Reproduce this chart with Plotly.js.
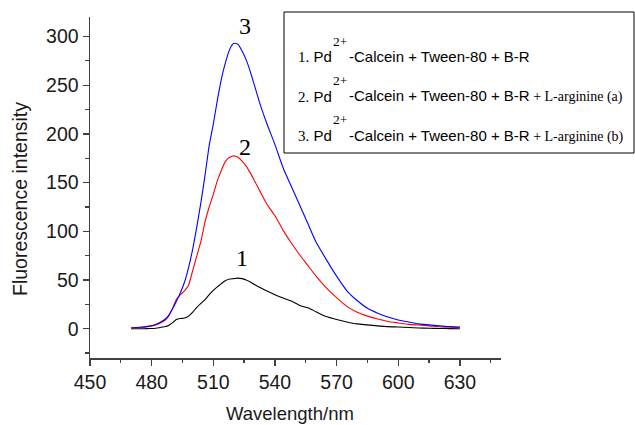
<!DOCTYPE html>
<html>
<head>
<meta charset="utf-8">
<script src="https://cdn.plot.ly/plotly-3.0.1.min.js"></script>
<style>html,body{margin:0;padding:0;background:#fff;}#chart{width:635px;height:425px;}</style>
</head>
<body>
<div id="chart"></div>
<script>
// ---- data ----
var wavelength = [470,474,478,482,486,488,490,492,494,496,498,500,502,504,506,508,510,512,514,516,518,520,522,524,526,528,530,533,536,540,544,548,552,556,560,565,570,575,580,585,590,595,600,605,610,615,620,625,630];
var curve1 = [0,0,0.2,0.5,2,3,6,9.5,10.5,11,13,17,22,26,30,35,39.5,43,46.5,49.5,51,51.5,52,51.5,50,48,45.5,42,39,35,31.5,28.5,24,21.5,17.5,12.5,9.5,7,5,4,3,2.2,1.8,1.3,0.8,0.5,0.3,0.2,0];
var curve2 = [0.5,1,2,4,8,12,20,30,35,39,45,60,75,90,110,125,138,152,163,172,176,177.5,176,172,167,160,152,140,128,116,101,88,76,65,54,42,32,23,17,13,10,7.5,6,4.5,3.8,3,2,1.5,1];
var curve3 = [1,1.5,2.5,4.5,9,13,20,28,37,48,63,82,105,130,158,188,210,235,257,274,287,293,292,285,276,264,250,229,211,189,165,146,127,108,89,71,54,39,29,21,16,12,9,7,5,4,3,2.3,1.7];
var curveLabels = ["1","2","3"];
var curveLabelX = [523.9,525.4,525.4];
var curveLabelY = [72.6,186.7,311];
var legendNums = ["1.","2.","3."];
var legendMain = "-Calcein + Tween-80 + B-R";
var legendExtra = [""," + L-arginine (a)"," + L-arginine (b)"];
var xTitle = "Wavelength/nm";
var yTitle = "Fluorescence intensity";

// ---- layout helpers ----
var W = 635, H = 425, ML = 90, MR = 134, MT = 17, MB = 67;
var PW = W - ML - MR, PH = H - MT - MB;
function px(x){ return (x - ML) / PW; }
function py(y){ return (H - MB - y) / PH; }
var SANS = "Liberation Sans, Arial, sans-serif";
var SERIF = "Liberation Serif, Times New Roman, serif";

var traces = [
  {x: wavelength, y: curve1, mode: "lines", line: {color: "#000000", width: 1.1, shape: "spline", smoothing: 0.6}},
  {x: wavelength, y: curve2, mode: "lines", line: {color: "#ff0000", width: 1.1, shape: "spline", smoothing: 0.6}},
  {x: wavelength, y: curve3, mode: "lines", line: {color: "#0000ff", width: 1.1, shape: "spline", smoothing: 0.6}}
];

var annotations = [];
for (var i = 0; i < 3; i++) {
  annotations.push({xref: "x", yref: "y", x: curveLabelX[i], y: curveLabelY[i], text: curveLabels[i],
    showarrow: false, xanchor: "center", yanchor: "middle", font: {family: SERIF, size: 24, color: "#000"}});
}
var baselines = [62, 101.5, 141];
for (var j = 0; j < 3; j++) {
  var b = baselines[j];
  annotations.push({xref: "paper", yref: "paper", x: px(333), y: py(b - 5.5), xanchor: "right", yanchor: "middle",
    showarrow: false, borderpad: 0,
    text: "<span style='font-family:" + SERIF + "'>" + legendNums[j] + "</span> Pd",
    font: {family: SANS, size: 15, color: "#000"}});
  annotations.push({xref: "paper", yref: "paper", x: px(332), y: py(b - 21), xanchor: "left", yanchor: "middle",
    showarrow: false, borderpad: 0, text: "2+", font: {family: SERIF, size: 13.5, color: "#000"}});
  annotations.push({xref: "paper", yref: "paper", x: px(348), y: py(b - 5.5), xanchor: "left", yanchor: "middle",
    showarrow: false, borderpad: 0,
    text: legendMain + (legendExtra[j] ? "<span style='font-family:" + SERIF + ";font-size:14px'>" + legendExtra[j] + "</span>" : ""),
    font: {family: SANS, size: 15, color: "#000"}});
}
// axis titles as annotations for exact placement
annotations.push({xref: "paper", yref: "paper", x: px(20), y: py(199), xanchor: "center", yanchor: "middle",
  textangle: -90, showarrow: false, text: yTitle, font: {family: SANS, size: 19.5, color: "#1a1a1a"}});
annotations.push({xref: "paper", yref: "paper", x: px(290), y: py(413), xanchor: "center", yanchor: "middle",
  showarrow: false, text: xTitle, font: {family: SANS, size: 18.5, color: "#1a1a1a"}});

var axisCommon = {
  showline: true, linecolor: "#404040", linewidth: 1.5,
  ticks: "outside", ticklen: 6, tickwidth: 1.3, tickcolor: "#404040",
  showgrid: false, zeroline: false, mirror: false,
  tickfont: {family: SANS, size: 19.5, color: "#1a1a1a"}
};

var layout = {
  width: W, height: H,
  margin: {l: ML, r: MR, t: MT, b: MB},
  paper_bgcolor: "#fff", plot_bgcolor: "#fff",
  showlegend: false,
  xaxis: Object.assign({}, axisCommon, {
    range: [450, 650], tick0: 450, dtick: 30,
    minor: {dtick: 15, ticks: "outside", ticklen: 3.5, tickwidth: 1.3, tickcolor: "#404040", showgrid: false}
  }),
  yaxis: Object.assign({}, axisCommon, {
    range: [-30, 320], tick0: 0, dtick: 50,
    minor: {dtick: 25, ticks: "outside", ticklen: 3.5, tickwidth: 1.3, tickcolor: "#404040", showgrid: false}
  }),
  shapes: [{type: "rect", xref: "paper", yref: "paper", x0: px(284), x1: px(634), y0: py(153), y1: py(12),
    line: {color: "#000", width: 1}, fillcolor: "rgba(0,0,0,0)"}],
  annotations: annotations
};

Plotly.newPlot("chart", traces, layout, {displayModeBar: false, staticPlot: true});
</script>
</body>
</html>
